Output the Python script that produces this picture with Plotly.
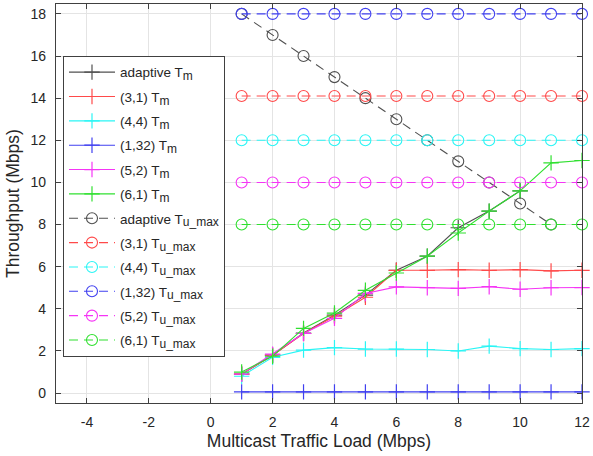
import plotly.graph_objects as go

load = [1, 2, 3, 4, 5, 6, 7, 8, 9, 10, 11, 12]

adaptive_Tm = [0.9, 1.8, 2.85, 3.7, 4.65, 5.83, 6.5, 7.85, 8.64, 9.6]
t31_Tm = [0.9, 1.8, 2.83, 3.65, 4.55, 5.83, 5.83, 5.86, 5.83, 5.86, 5.8, 5.83]
t44_Tm = [0.8, 1.7, 2.04, 2.16, 2.09, 2.09, 2.07, 2.0, 2.23, 2.11, 2.07, 2.11]
t132_Tm = [0.06] * 12
t52_Tm = [0.9, 1.85, 2.83, 3.55, 4.73, 5.04, 5.0, 4.97, 5.05, 4.93, 5.0, 5.01]
t61_Tm = [1.0, 1.75, 3.07, 3.8, 4.88, 5.7, 6.5, 7.6, 8.64, 9.6, 10.93, 11.04]

adaptive_Tu = [18, 17, 16, 15, 14, 13, 12, 11, 10, 9, 8]
t31_Tu = [14.1] * 12
t44_Tu = [12.0] * 12
t132_Tu = [18.0] * 12
t52_Tu = [10.0] * 12
t61_Tu = [8.0] * 12

x_ticks = [-4, -2, 0, 2, 4, 6, 8, 10, 12]
x_tick_labels = ["-4", "-2", "0", "2", "4", "6", "8", "10", "12"]
y_ticks = [0, 2, 4, 6, 8, 10, 12, 14, 16, 18]

colors = {
    "adaptive": "#505050",
    "(3,1)": "#ff4a4a",
    "(4,4)": "#2af5f5",
    "(1,32)": "#4040f0",
    "(5,2)": "#f535f5",
    "(6,1)": "#30e030",
}

FONT = "Liberation Sans, Arial, sans-serif"
TXT = "#262626"
SUBSTYLE = "font-size:12px"

fig = go.Figure()

tm_series = [
    ("adaptive", adaptive_Tm),
    ("(3,1)", t31_Tm),
    ("(4,4)", t44_Tm),
    ("(1,32)", t132_Tm),
    ("(5,2)", t52_Tm),
    ("(6,1)", t61_Tm),
]
tu_series = [
    ("adaptive", adaptive_Tu),
    ("(3,1)", t31_Tu),
    ("(4,4)", t44_Tu),
    ("(1,32)", t132_Tu),
    ("(5,2)", t52_Tu),
    ("(6,1)", t61_Tu),
]

k = 0
for name, ys in tm_series:
    c = colors[name]
    fig.add_trace(go.Scatter(
        x=load[:len(ys)], y=ys, mode="lines+markers", cliponaxis=False,
        name=f"{name} T<sub><span style='{SUBSTYLE}'>m</span></sub>", legendgroup=f"g{k}",
        line=dict(color=c, width=1.1),
        marker=dict(symbol="cross-thin", size=11, line=dict(color=c, width=1.2), color=c),
    ))
    k += 1

for name, ys in tu_series:
    c = colors[name]
    fig.add_trace(go.Scatter(
        x=load[:len(ys)], y=ys, mode="lines+markers", cliponaxis=False,
        name=f"{name} T<sub><span style='{SUBSTYLE}'>u_max</span></sub>", legendgroup=f"g{k}",
        line=dict(color=c, width=1.1, dash="9px,6px"),
        marker=dict(symbol="circle-open", size=11, line=dict(color=c, width=1.1), color=c),
    ))
    k += 1

axis_common = dict(
    showline=True, linecolor="#404040", linewidth=1.2, mirror="ticks",
    ticks="inside", ticklen=5, tickcolor="#404040",
    showgrid=True, gridcolor="#e4e4e4", gridwidth=1, zeroline=False,
    tickfont=dict(family=FONT, size=14, color=TXT),
)

fig.update_xaxes(range=[-5, 12], tickvals=x_ticks, ticktext=x_tick_labels,
                 ticklabeloverflow="allow", ticklabelstandoff=6,
                 title=dict(text="Multicast Traffic Load (Mbps)", standoff=5,
                            font=dict(family=FONT, size=17.5, color=TXT)),
                 **axis_common)
fig.update_yaxes(range=[-0.47, 18.47], tickvals=y_ticks, ticklabelstandoff=6,
                 title=dict(text="Throughput (Mbps)", standoff=6,
                            font=dict(family=FONT, size=17.5, color=TXT)),
                 **axis_common)

fig.update_layout(
    width=593, height=456,
    margin=dict(l=56, r=9, t=3, b=53),
    plot_bgcolor="white", paper_bgcolor="white",
    legend=dict(x=0.0133, y=0.870, xanchor="left", yanchor="top",
                bgcolor="white", bordercolor="#404040", borderwidth=1,
                font=dict(family=FONT, size=13.5, color=TXT),
                tracegroupgap=3.8, itemwidth=46, traceorder="grouped"),
    showlegend=True,
)

fig.write_html("out.html", config={"displayModeBar": False},
               post_script="document.body.style.margin='0px';")
